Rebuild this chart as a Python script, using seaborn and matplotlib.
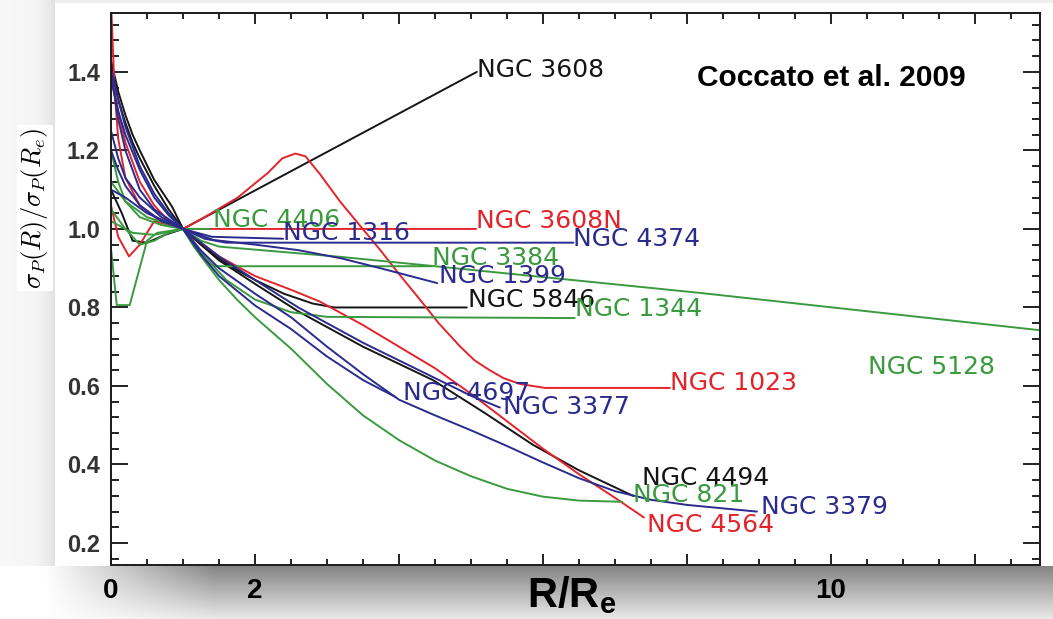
import numpy as np
import pandas as pd
import matplotlib
matplotlib.use("Agg")
import matplotlib.pyplot as plt
from matplotlib.ticker import MultipleLocator, FixedLocator
import seaborn as sns

# ---- velocity dispersion profiles, normalised at R = Re ----
r_3608 = [0, 0.05, 0.1, 0.2, 0.3, 0.4, 0.6, 0.8, 1.0, 5.08]
s_3608 = [1.42, 1.37, 1.33, 1.27, 1.22, 1.18, 1.11, 1.05, 1.0, 1.40]

r_5846 = [0, 0.15, 0.3, 0.5, 0.75, 1.0, 1.25, 1.5, 1.75, 2.0, 2.4, 2.8, 3.1, 4.94]
s_5846 = [1.10, 1.04, 0.97, 0.965, 0.985, 1.0, 0.96, 0.925, 0.895, 0.87, 0.835, 0.81, 0.80, 0.80]

r_4494 = [0, 0.05, 0.1, 0.2, 0.3, 0.4, 0.6, 0.85, 1.0, 1.5, 2.0, 2.6, 3.5, 4.47,
          5.2, 5.86, 6.5, 7.25]
s_4494 = [1.43, 1.39, 1.35, 1.29, 1.24, 1.20, 1.125, 1.056, 1.0, 0.92, 0.86, 0.79, 0.70, 0.615,
          0.53, 0.45, 0.385, 0.32]

r_3608n = [0, 0.1, 0.25, 0.4, 0.6, 0.8, 1.0, 5.07]
s_3608n = [1.06, 0.98, 0.93, 0.96, 1.02, 1.01, 1.0, 1.0]

r_1023 = [0, 0.1, 0.2, 0.4, 0.6, 0.8, 1.0, 1.3, 1.76, 2.18, 2.38, 2.56, 2.7, 2.9,
          3.18, 3.45, 3.74, 4.0, 4.29, 4.55, 4.85, 5.05, 5.26, 5.45, 5.68, 6.03, 7.76]
s_1023 = [1.40, 1.30, 1.22, 1.12, 1.06, 1.02, 1.0, 1.03, 1.08, 1.143, 1.18, 1.192, 1.185, 1.14,
          1.07, 1.01, 0.946, 0.885, 0.82, 0.76, 0.70, 0.665, 0.64, 0.62, 0.605, 0.595, 0.595]

r_4564 = [0, 0.05, 0.1, 0.2, 0.4, 0.68, 1.0, 1.5, 2.0, 2.5, 2.9, 3.5, 4.0, 4.5, 5.0,
          5.5, 6.0, 6.5, 7.0, 7.4]
s_4564 = [1.58, 1.35, 1.23, 1.13, 1.06, 1.02, 1.0, 0.93, 0.88, 0.845, 0.815, 0.755, 0.70, 0.645, 0.58,
          0.51, 0.44, 0.375, 0.315, 0.265]

r_4406 = [0, 0.2, 0.4, 0.6, 0.8, 1.0, 1.37]
s_4406 = [1.05, 1.0, 0.96, 0.97, 0.99, 1.0, 1.0]

r_3384 = [0, 0.1, 0.2, 0.4, 0.7, 1.0, 1.15, 1.3, 1.45, 4.46]
s_3384 = [1.2, 1.12, 1.07, 1.03, 1.01, 1.0, 0.955, 0.92, 0.905, 0.905]

r_1344 = [0, 0.08, 0.26, 0.5, 0.64, 1.0, 1.3, 1.6, 2.0, 2.5, 3.0, 6.44]
s_1344 = [0.95, 0.806, 0.806, 0.97, 0.99, 1.0, 0.93, 0.87, 0.82, 0.788, 0.776, 0.773]

r_5128 = [0, 0.3, 0.6, 1.0, 1.25, 1.5, 3.18, 4.5, 6.4, 8.18, 12.9]
s_5128 = [1.02, 0.99, 0.985, 1.0, 0.97, 0.955, 0.929, 0.905, 0.87, 0.837, 0.742]

r_821 = [0, 0.2, 0.5, 1.0, 1.25, 1.5, 1.75, 2.0, 2.5, 3.0, 3.5, 4.0, 4.5, 5.0, 5.5,
         6.0, 6.5, 7.1]
s_821 = [1.12, 1.07, 1.03, 1.0, 0.93, 0.87, 0.82, 0.775, 0.695, 0.605, 0.525, 0.462, 0.41, 0.37, 0.338,
         0.318, 0.308, 0.305]

r_1316 = [0, 0.2, 0.5, 1.0, 1.4, 2.39]
s_1316 = [1.10, 1.08, 1.04, 1.0, 0.98, 0.975]

r_4374 = [0, 0.1, 0.2, 0.4, 0.6, 1.0, 1.3, 1.6, 6.42]
s_4374 = [1.40, 1.28, 1.20, 1.10, 1.05, 1.0, 0.975, 0.965, 0.965]

r_1399 = [0, 0.1, 0.2, 0.4, 0.6, 0.8, 1.0, 1.42, 2.0, 2.6, 3.2, 3.74, 4.53]
s_1399 = [1.38, 1.30, 1.24, 1.15, 1.08, 1.035, 1.0, 0.972, 0.96, 0.946, 0.925, 0.90, 0.862]

r_4697 = [0, 0.1, 0.2, 0.4, 0.7, 1.0, 1.25, 1.5, 2.0, 2.5, 3.0, 3.5, 3.95]
s_4697 = [1.2, 1.15, 1.11, 1.06, 1.02, 1.0, 0.935, 0.88, 0.805, 0.745, 0.675, 0.615, 0.572]

r_3377 = [0, 0.1, 0.2, 0.4, 0.6, 0.8, 1.0, 1.5, 2.0, 2.6, 3.0, 3.5, 4.0, 4.5, 5.0, 5.4]
s_3377 = [1.41, 1.33, 1.26, 1.16, 1.09, 1.04, 1.0, 0.93, 0.87, 0.80, 0.76, 0.71, 0.665, 0.62, 0.575, 0.545]

r_3379 = [0, 0.1, 0.2, 0.4, 0.7, 1.0, 1.25, 1.5, 2.0, 2.5, 3.0, 3.5, 4.0, 4.5, 5.0, 5.5,
          6.0, 6.5, 7.0, 7.5, 8.0, 8.97]
s_3379 = [1.25, 1.18, 1.13, 1.08, 1.03, 1.0, 0.945, 0.90, 0.835, 0.775, 0.70, 0.63, 0.565, 0.525, 0.487,
          0.447, 0.405, 0.365, 0.332, 0.31, 0.297, 0.28]

galaxies = ["NGC 3608", "NGC 5846", "NGC 4494", "NGC 3608N", "NGC 1023", "NGC 4564",
            "NGC 4406", "NGC 3384", "NGC 1344", "NGC 5128", "NGC 821",
            "NGC 1316", "NGC 4374", "NGC 1399", "NGC 4697", "NGC 3377", "NGC 3379"]
radii = [r_3608, r_5846, r_4494, r_3608n, r_1023, r_4564, r_4406, r_3384, r_1344,
         r_5128, r_821, r_1316, r_4374, r_1399, r_4697, r_3377, r_3379]
sigmas = [s_3608, s_5846, s_4494, s_3608n, s_1023, s_4564, s_4406, s_3384, s_1344,
          s_5128, s_821, s_1316, s_4374, s_1399, s_4697, s_3377, s_3379]
groups = ["k", "k", "k", "r", "r", "r", "g", "g", "g", "g", "g",
          "b", "b", "b", "b", "b", "b"]

# label anchor (left edge, vertical centre) for each galaxy name
label_x = [5.08, 4.96, 7.38, 5.07, 7.76, 7.44, 1.42, 4.46, 6.44, 10.51, 7.25,
           2.39, 6.42, 4.55, 4.06, 5.45, 9.02]
label_y = [1.405, 0.82, 0.366, 1.02, 0.608, 0.246, 1.023, 0.926, 0.795, 0.648, 0.322,
           0.99, 0.975, 0.88, 0.582, 0.547, 0.292]

x_tick_values = [0, 2, 4, 6, 8, 10, 12]
x_tick_text = ["0", "2", "", "", "", "10", ""]
y_tick_values = [0.2, 0.4, 0.6, 0.8, 1.0, 1.2, 1.4]
y_tick_text = ["0.2", "0.4", "0.6", "0.8", "1.0", "1.2", "1.4"]

palette = {"k": "#151515", "r": "#e3242b", "g": "#3a9a3e", "b": "#2b2b8e"}

frames = []
for name, rr, ss, grp in zip(galaxies, radii, sigmas, groups):
    frames.append(pd.DataFrame({"R": rr, "sigma": ss, "galaxy": name, "grp": grp}))
profiles = pd.concat(frames, ignore_index=True)

# ---- figure ----
sns.set_theme(style="ticks")
plt.rcParams["font.family"] = ["DejaVu Sans"]
plt.rcParams["mathtext.fontset"] = "custom"
plt.rcParams["mathtext.rm"] = "Liberation Sans"
plt.rcParams["mathtext.bf"] = "Liberation Sans:bold"
plt.rcParams["mathtext.it"] = "Liberation Sans:italic"

W, H = 1053, 619
fig = plt.figure(figsize=(W / 100, H / 100), dpi=100)
fig.patch.set_facecolor("white")

# backdrop: white panel with a soft grey shadow below and to the left
yy, xx = np.mgrid[0:H, 0:W].astype(float)
bg = np.ones((H, W))
band = yy >= 566
t = (yy - 566) / (H - 566)
shade = 0.52 + 0.40 * t
fade = np.clip((xx - 45) / 170.0, 0, 1)
val = 1 - (1 - shade) * fade
bg[band] = val[band]
left = (xx < 55) & (yy < 566)
lv = 1 - 0.10 * np.exp(-(55 - xx) / 10.0) - 0.03
bg[left] = lv[left]
top = (yy < 3) & (xx >= 55)
bg[top] = 0.94
bg_ax = fig.add_axes([0, 0, 1, 1], zorder=0)
bg_ax.imshow(np.dstack([bg, bg, bg]), aspect="auto", interpolation="bilinear",
             extent=(0, W, H, 0))
bg_ax.set_axis_off()

ax = fig.add_axes([111 / W, 1 - 565 / H, (1040 - 111) / W, (565 - 13) / H], zorder=2)
ax.set_facecolor("none")

for name in galaxies:
    sub = profiles[profiles["galaxy"] == name]
    sns.lineplot(data=sub, x="R", y="sigma", color=palette[sub["grp"].iloc[0]],
                 lw=1.4, sort=False, estimator=None, legend=False, ax=ax)

for name, lx, ly, grp in zip(galaxies, label_x, label_y, groups):
    ax.text(lx, ly, name, color=palette[grp], fontsize=18, ha="left", va="center",
            family="DejaVu Sans")

ax.set_xlim(0, 12.9)
ax.set_ylim(0.144, 1.55)
ax.set_xlabel("")
ax.set_ylabel("")

ax.xaxis.set_major_locator(FixedLocator(x_tick_values))
ax.set_xticklabels(x_tick_text)
ax.xaxis.set_minor_locator(MultipleLocator(0.5))
ax.yaxis.set_major_locator(FixedLocator(y_tick_values))
ax.set_yticklabels(y_tick_text)
ax.yaxis.set_minor_locator(MultipleLocator(0.04))

ax.tick_params(which="both", direction="in", top=True, right=True,
               color="#222222", width=1.4)
ax.tick_params(axis="y", which="major", length=12, pad=8)
ax.tick_params(axis="y", which="minor", length=6)
ax.tick_params(axis="x", which="major", length=8, pad=9)
ax.tick_params(axis="x", which="minor", length=4.5)
for lab in ax.get_yticklabels():
    lab.set_fontfamily("Liberation Sans")
    lab.set_fontweight("bold")
    lab.set_fontsize(17)
    lab.set_color("#333333")
for lab in ax.get_xticklabels():
    lab.set_fontfamily("Liberation Sans")
    lab.set_fontweight("bold")
    lab.set_fontsize(20)
    lab.set_color("black")
for sp in ax.spines.values():
    sp.set_linewidth(1.4)
    sp.set_color("#1a1a1a")
    sp.set_visible(True)

fig.text(831 / W, 1 - 78 / H, "Coccato et al. 2009", fontsize=21.5, fontweight="bold",
         family="Liberation Sans", ha="center", va="center", color="black", zorder=3)

fig.text(572 / W, 1 - 607 / H, r"$\mathbf{R/R_e}$", fontsize=30, ha="center",
         va="baseline", math_fontfamily="custom", color="black", zorder=3)

fig.text(35 / W, 1 - 208 / H, r"$\sigma_P(R)/\sigma_P(R_e)$", fontsize=19, rotation=90,
         ha="center", va="center", math_fontfamily="cm", color="black", zorder=3,
         bbox=dict(facecolor="white", edgecolor="none", pad=2))

fig.savefig("out.png", dpi=100, facecolor=fig.get_facecolor())
